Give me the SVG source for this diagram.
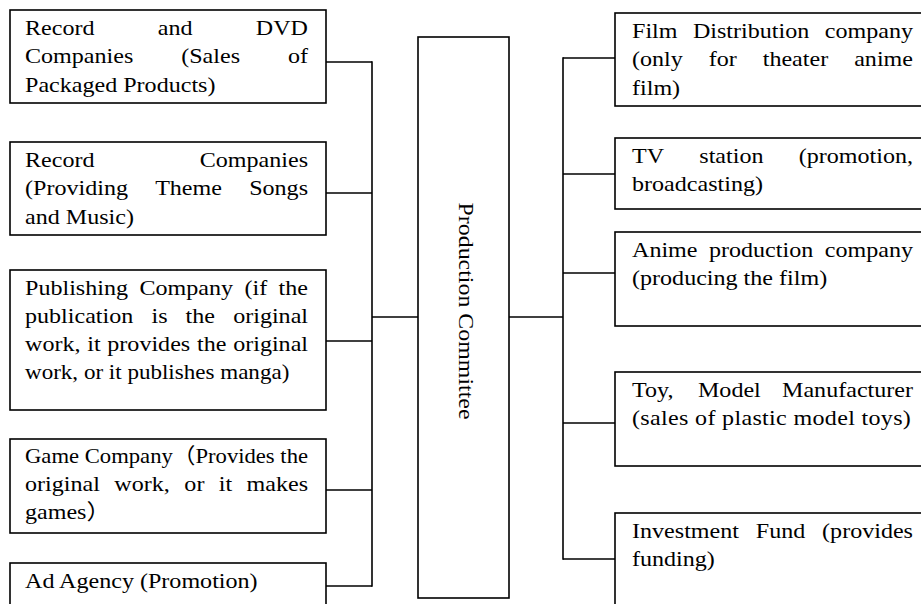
<svg xmlns="http://www.w3.org/2000/svg" width="921" height="604" viewBox="0 0 921 604">
<style>
rect{fill:#fff;stroke:#000;stroke-width:1.6}
.c line{stroke:#000;stroke-width:1.6}
text{font-family:"Liberation Serif","Times New Roman","Noto Sans CJK JP",serif;font-size:21.5px;fill:#000}
.e{text-anchor:end}
</style>
<rect x="0" y="0" width="921" height="604" style="stroke:none"/>
<g class="c" id="connectors">
<line x1="326" y1="62" x2="372" y2="62"/>
<line x1="326" y1="193" x2="372" y2="193"/>
<line x1="326" y1="341" x2="372" y2="341"/>
<line x1="326" y1="490" x2="372" y2="490"/>
<line x1="326" y1="586" x2="372" y2="586"/>
<line x1="372" y1="61.2" x2="372" y2="586.8"/>
<line x1="372" y1="317" x2="418" y2="317"/>
<line x1="509" y1="317" x2="563" y2="317"/>
<line x1="563" y1="57.2" x2="563" y2="559.8"/>
<line x1="563" y1="58" x2="615" y2="58"/>
<line x1="563" y1="174" x2="615" y2="174"/>
<line x1="563" y1="273" x2="615" y2="273"/>
<line x1="563" y1="423" x2="615" y2="423"/>
<line x1="563" y1="559" x2="615" y2="559"/>
</g>
<g id="center">
<rect x="418" y="37" width="91" height="561"/>
<text transform="translate(459,311) rotate(90)" text-anchor="middle" textLength="217" lengthAdjust="spacingAndGlyphs">Production Committee</text>
</g>
<g id="record-dvd">
<rect x="10" y="10" width="316" height="93"/>
<g transform="translate(25,0) scale(1.12,1)">
<text y="35"><tspan x="0">Record</tspan><tspan x="118.6">and</tspan><tspan x="252.7" class="e">DVD</tspan></text>
<text y="63.5"><tspan x="0">Companies</tspan><tspan x="139.5">(Sales</tspan><tspan x="252.7" class="e">of</tspan></text>
<text y="92" x="0">Packaged Products)</text>
</g>
</g>
<g id="record-music">
<rect x="10" y="142" width="316" height="93"/>
<g transform="translate(25,0) scale(1.12,1)">
<text y="167"><tspan x="0">Record</tspan><tspan x="252.7" class="e">Companies</tspan></text>
<text y="195.5"><tspan x="0">(Providing</tspan><tspan x="116.2">Theme</tspan><tspan x="252.7" class="e">Songs</tspan></text>
<text y="224" x="0">and Music)</text>
</g>
</g>
<g id="publishing">
<rect x="10" y="270" width="316" height="140"/>
<g transform="translate(25,0) scale(1.12,1)">
<text y="295"><tspan x="0">Publishing</tspan><tspan x="102.2">Company</tspan><tspan x="196">(if</tspan><tspan x="252.7" class="e">the</tspan></text>
<text y="323"><tspan x="0">publication</tspan><tspan x="112.9">is</tspan><tspan x="143.4">the</tspan><tspan x="252.7" class="e">original</tspan></text>
<text y="351"><tspan x="0">work,</tspan><tspan x="55.6">it</tspan><tspan x="73.5">provides</tspan><tspan x="153.6">the</tspan><tspan x="252.7" class="e">original</tspan></text>
<text y="379" x="0" textLength="236" lengthAdjust="spacingAndGlyphs">work, or it publishes manga)</text>
</g>
</g>
<g id="game">
<rect x="10" y="439" width="316" height="94"/>
<g transform="translate(25,0) scale(1.12,1)">
<text y="463" x="0" textLength="252.7" lengthAdjust="spacingAndGlyphs">Game Company（Provides the</text>
<text y="491"><tspan x="0">original</tspan><tspan x="79.8">work,</tspan><tspan x="142.3">or</tspan><tspan x="173.1">it</tspan><tspan x="252.7" class="e">makes</tspan></text>
<text y="519" x="0">games）</text>
</g>
</g>
<g id="ad-agency">
<rect x="10" y="563" width="316" height="60"/>
<g transform="translate(25,0) scale(1.12,1)">
<text y="588" x="0">Ad Agency (Promotion)</text>
</g>
</g>
<g id="film-distribution">
<rect x="615" y="13" width="320" height="93"/>
<g transform="translate(632,0) scale(1.12,1)">
<text y="38"><tspan x="0">Film</tspan><tspan x="54.4">Distribution</tspan><tspan x="250.9" class="e">company</tspan></text>
<text y="66.5"><tspan x="0">(only</tspan><tspan x="68.5">for</tspan><tspan x="116.7">theater</tspan><tspan x="250.9" class="e">anime</tspan></text>
<text y="95" x="0">film)</text>
</g>
</g>
<g id="tv-station">
<rect x="615" y="138" width="320" height="71"/>
<g transform="translate(632,0) scale(1.12,1)">
<text y="163"><tspan x="0">TV</tspan><tspan x="60.1">station</tspan><tspan x="250.9" class="e">(promotion,</tspan></text>
<text y="191.5" x="0">broadcasting)</text>
</g>
</g>
<g id="anime-production">
<rect x="615" y="232" width="320" height="94"/>
<g transform="translate(632,0) scale(1.12,1)">
<text y="257"><tspan x="0">Anime</tspan><tspan x="68.7">production</tspan><tspan x="250.9" class="e">company</tspan></text>
<text y="285.5" x="0">(producing the film)</text>
</g>
</g>
<g id="toy-model">
<rect x="615" y="372" width="320" height="94"/>
<g transform="translate(632,0) scale(1.12,1)">
<text y="397"><tspan x="0">Toy,</tspan><tspan x="58.9">Model</tspan><tspan x="250.9" class="e">Manufacturer</tspan></text>
<text y="425.5" x="0" textLength="249" lengthAdjust="spacing">(sales of plastic model toys)</text>
</g>
</g>
<g id="investment-fund">
<rect x="615" y="513" width="320" height="110"/>
<g transform="translate(632,0) scale(1.12,1)">
<text y="538"><tspan x="0">Investment</tspan><tspan x="110.5">Fund</tspan><tspan x="250.9" class="e">(provides</tspan></text>
<text y="566.5" x="0">funding)</text>
</g>
</g>
</svg>
